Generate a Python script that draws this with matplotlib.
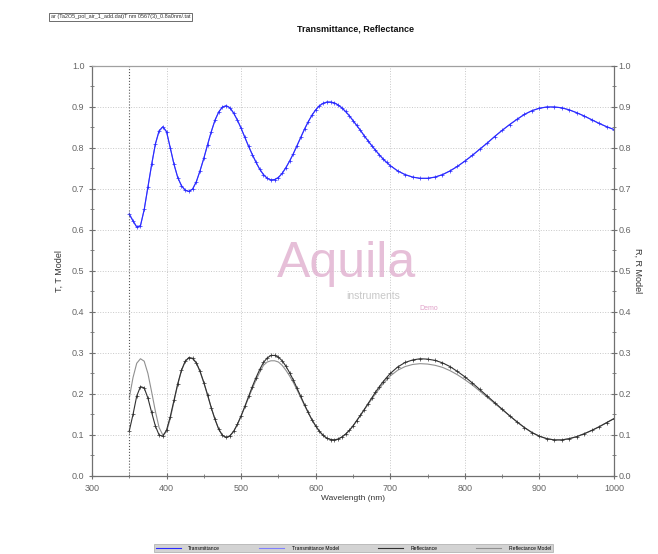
import numpy as np
import matplotlib
matplotlib.use("Agg")
import matplotlib.pyplot as plt
from matplotlib.lines import Line2D

# Longitudes de onda (nm): cada 5 nm hasta 700, luego cada 10 nm
wl = [350, 355, 360, 365, 370, 375, 380, 385, 390, 395,
      400, 405, 410, 415, 420, 425, 430, 435, 440, 445,
      450, 455, 460, 465, 470, 475, 480, 485, 490, 495,
      500, 505, 510, 515, 520, 525, 530, 535, 540, 545,
      550, 555, 560, 565, 570, 575, 580, 585, 590, 595,
      600, 605, 610, 615, 620, 625, 630, 635, 640, 645,
      650, 655, 660, 665, 670, 675, 680, 685, 690, 695,
      700, 710, 720, 730, 740, 750, 760, 770, 780, 790,
      800, 810, 820, 830, 840, 850, 860, 870, 880, 890,
      900, 910, 920, 930, 940, 950, 960, 970, 980, 990, 1000]

trans = [0.638, 0.622, 0.607, 0.610, 0.650, 0.705, 0.760, 0.810, 0.842, 0.852,
         0.840, 0.800, 0.760, 0.728, 0.708, 0.697, 0.694, 0.700, 0.718, 0.745,
         0.775, 0.808, 0.840, 0.868, 0.888, 0.900, 0.903, 0.898, 0.885, 0.868,
         0.848, 0.826, 0.804, 0.784, 0.765, 0.748, 0.735, 0.726, 0.722, 0.723,
         0.728, 0.738, 0.752, 0.768, 0.786, 0.806, 0.826, 0.846, 0.864, 0.880,
         0.893, 0.903, 0.909, 0.912, 0.912, 0.910, 0.905, 0.898, 0.889, 0.879,
         0.867, 0.855, 0.843, 0.830, 0.818, 0.806, 0.795, 0.784, 0.774, 0.765,
         0.757, 0.744, 0.735, 0.729, 0.726, 0.726, 0.729, 0.735, 0.744, 0.755,
         0.768, 0.782, 0.797, 0.812, 0.828, 0.843, 0.857, 0.870, 0.882, 0.891,
         0.897, 0.900, 0.900, 0.898, 0.893, 0.886, 0.878, 0.869, 0.860, 0.852, 0.845]

trans_model = [0.640, 0.623, 0.608, 0.611, 0.649, 0.704, 0.759, 0.809, 0.841, 0.851,
               0.839, 0.800, 0.760, 0.728, 0.708, 0.697, 0.694, 0.700, 0.718, 0.745,
               0.775, 0.808, 0.840, 0.868, 0.888, 0.900, 0.903, 0.898, 0.885, 0.868,
               0.848, 0.826, 0.804, 0.784, 0.765, 0.748, 0.735, 0.726, 0.722, 0.723,
               0.728, 0.738, 0.752, 0.768, 0.786, 0.806, 0.826, 0.846, 0.864, 0.880,
               0.893, 0.903, 0.909, 0.912, 0.912, 0.910, 0.905, 0.898, 0.889, 0.879,
               0.867, 0.855, 0.843, 0.830, 0.818, 0.806, 0.795, 0.784, 0.774, 0.765,
               0.757, 0.744, 0.735, 0.729, 0.726, 0.726, 0.729, 0.735, 0.744, 0.755,
               0.768, 0.782, 0.797, 0.812, 0.828, 0.843, 0.857, 0.870, 0.882, 0.891,
               0.897, 0.900, 0.900, 0.898, 0.893, 0.886, 0.878, 0.869, 0.860, 0.852, 0.845]

refl = [0.110, 0.150, 0.195, 0.218, 0.215, 0.190, 0.155, 0.122, 0.100, 0.097,
        0.112, 0.145, 0.185, 0.225, 0.258, 0.280, 0.289, 0.287, 0.276, 0.255,
        0.228, 0.198, 0.166, 0.138, 0.114, 0.099, 0.094, 0.098, 0.109, 0.126,
        0.147, 0.170, 0.194, 0.218, 0.240, 0.260, 0.277, 0.288, 0.294, 0.294,
        0.290, 0.281, 0.268, 0.252, 0.234, 0.214, 0.194, 0.174, 0.155, 0.137,
        0.122, 0.109, 0.099, 0.092, 0.089, 0.088, 0.090, 0.095, 0.102, 0.111,
        0.122, 0.135, 0.148, 0.162, 0.176, 0.190, 0.204, 0.217, 0.229, 0.240,
        0.250, 0.266, 0.277, 0.283, 0.286, 0.285, 0.282, 0.276, 0.267, 0.255,
        0.242, 0.227, 0.211, 0.195, 0.179, 0.163, 0.147, 0.132, 0.118, 0.106,
        0.097, 0.091, 0.088, 0.088, 0.091, 0.096, 0.103, 0.111, 0.120, 0.130, 0.140]

refl_model = [0.190, 0.240, 0.275, 0.286, 0.280, 0.250, 0.205, 0.158, 0.118, 0.100,
              0.108, 0.140, 0.182, 0.223, 0.257, 0.279, 0.288, 0.286, 0.275, 0.254,
              0.227, 0.197, 0.166, 0.138, 0.114, 0.099, 0.094, 0.098, 0.109, 0.126,
              0.146, 0.168, 0.191, 0.213, 0.234, 0.253, 0.270, 0.278, 0.281, 0.281,
              0.278, 0.270, 0.258, 0.244, 0.228, 0.210, 0.191, 0.172, 0.154, 0.137,
              0.122, 0.109, 0.099, 0.092, 0.089, 0.088, 0.090, 0.095, 0.102, 0.111,
              0.122, 0.135, 0.148, 0.161, 0.174, 0.187, 0.200, 0.212, 0.224, 0.234,
              0.244, 0.258, 0.267, 0.272, 0.274, 0.273, 0.270, 0.265, 0.257, 0.247,
              0.235, 0.222, 0.207, 0.192, 0.177, 0.162, 0.147, 0.132, 0.118, 0.106,
              0.097, 0.091, 0.088, 0.088, 0.091, 0.096, 0.103, 0.111, 0.120, 0.130, 0.140]

xticks = [300, 400, 500, 600, 700, 800, 900, 1000]
yticks = [0.0, 0.1, 0.2, 0.3, 0.4, 0.5, 0.6, 0.7, 0.8, 0.9, 1.0]

plt.rcParams['font.family'] = ['Liberation Sans', 'DejaVu Sans']

fig = plt.figure(figsize=(6.58, 5.54), dpi=100)
ax = fig.add_axes([0.1398, 0.1408, 0.7933, 0.7401])

ax.plot(wl, trans_model, color='#8080ff', lw=0.8)
ax.plot(wl, trans, color='#2a2aff', lw=0.8, marker='+', ms=2.5, mew=0.5)
ax.plot(wl, refl_model, color='#909090', lw=0.8)
ax.plot(wl, refl, color='#303030', lw=0.8, marker='+', ms=2.5, mew=0.5)

ax.axvline(350, color='#555555', ls=':', lw=0.8)

ax.set_xlim(300, 1000)
ax.set_ylim(0, 1.0)
ax.set_xticks(xticks)
ax.set_xticks(np.arange(350, 1000, 100), minor=True)
ax.set_yticks(yticks)
ax.set_yticks(np.arange(0.05, 1.0, 0.1), minor=True)
ax.set_yticklabels(['%.1f' % v for v in yticks])
ax.grid(True, which='major', color='#c8c8c8', ls=':', lw=0.7)

for s in ax.spines.values():
    s.set_color('#707070')
    s.set_linewidth(0.9)
ax.spines['top'].set_color('#a0a0a0')

ax.tick_params(which='both', direction='inout', colors='#707070', labelcolor='#666666',
               labelsize=6.5, length=4)
ax.tick_params(which='minor', length=3)
ax.tick_params(axis='y', right=True)

ax2 = ax.twinx()
ax2.set_ylim(0, 1.0)
ax2.set_yticks(yticks)
ax2.set_yticks(np.arange(0.05, 1.0, 0.1), minor=True)
ax2.set_yticklabels(['%.1f' % v for v in yticks])
ax2.tick_params(which='both', direction='inout', colors='#707070', labelcolor='#666666',
                labelsize=6.5, length=4, pad=1)
ax2.tick_params(which='minor', length=3)
for s in ax2.spines.values():
    s.set_visible(False)

ax.set_xlabel('Wavelength (nm)', fontsize=6, color='#333333', labelpad=2)
ax.set_ylabel('T, T Model', fontsize=6.5, color='#333333', labelpad=6)
ax2.set_ylabel('R, R Model', fontsize=6.5, color='#333333', rotation=270, labelpad=8)

fig.text(0.54, 0.948, 'Transmittance, Reflectance', ha='center', va='center',
         fontsize=6.5, fontweight='bold', color='#111111')

fig.text(0.077, 0.970, 'ar (Ta2O5_pol_air_1_add.dat)T nm 0567(3)_0.8a0nm/.tat',
         ha='left', va='center', fontsize=4.0, color='#333333',
         bbox=dict(boxstyle='square,pad=0.25', fc='white', ec='#555555', lw=0.6))

# Marca de agua
fig.text(0.527, 0.524, 'Aquila', ha='center', va='center', fontsize=36,
         color='#e2b4d2', alpha=0.85)
fig.text(0.567, 0.466, 'instruments', ha='center', va='center', fontsize=7.5,
         color='#c8c8c8')
fig.text(0.652, 0.444, 'Demo', ha='center', va='center', fontsize=5,
         color='#e0a0c8')

handles = [Line2D([], [], color='#2a2aff', lw=0.8),
           Line2D([], [], color='#8080ff', lw=0.8),
           Line2D([], [], color='#303030', lw=0.8),
           Line2D([], [], color='#909090', lw=0.8)]
labels = ['Transmittance', 'Transmittance Model', 'Reflectance', 'Reflectance Model']
leg = fig.legend(handles, labels, loc='center', bbox_to_anchor=(0.537, 0.0105),
                 ncol=4, fontsize=3.6, frameon=True, fancybox=False,
                 handlelength=5, columnspacing=7.8, borderpad=0.3,
                 handletextpad=1.5)
leg.get_frame().set_facecolor('#c8c8c8')
leg.get_frame().set_edgecolor('#999999')
leg.get_frame().set_linewidth(0.5)

fig.savefig('out.png', dpi=100)
